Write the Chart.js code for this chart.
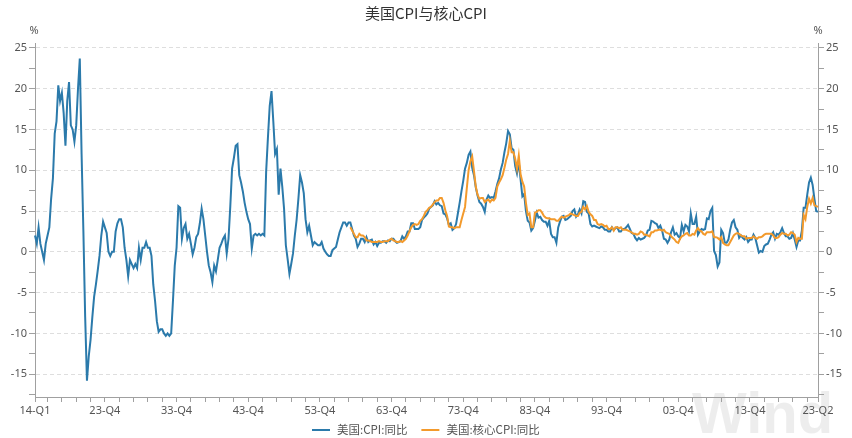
<!DOCTYPE html>
<html>
<head>
<meta charset="utf-8">
<script src="https://cdn.jsdelivr.net/npm/chart.js@4.4.0/dist/chart.umd.min.js"></script>
<style>
  html, body { margin: 0; padding: 0; background: #fff; }
</style>
</head>
<body>
<canvas id="cpiChart" width="852" height="438"></canvas>
<script>
// Quarter categories 1914-Q1 .. 2023-Q2
const quarters = [];
for (let y = 1914; y <= 2023; y++) {
  for (let q = 1; q <= 4; q++) {
    if (y === 2023 && q > 2) break;
    quarters.push(String(y % 100).padStart(2, "0") + "-Q" + q);
  }
}

// Labels shown under the x axis
const tickLabels = ["14-Q1", "23-Q4", "33-Q4", "43-Q4", "53-Q4", "63-Q4",
  "73-Q4", "83-Q4", "93-Q4", "03-Q4", "13-Q4", "23-Q2"];

// 美国:CPI:同比 (%), one value per quarter, 1914-Q1 .. 2023-Q2
const cpiYoY = [
  2.0, 1.0, 3.0, 1.0,       // 1914
  0.0, -1.0, 1.0, 2.0,      // 1915
  3.0, 6.5, 9.0, 14.5,      // 1916
  16.0, 20.4, 18.5, 19.5,   // 1917
  17.0, 13.0, 18.5, 20.8,   // 1918
  15.5, 15.0, 13.5, 15.5,   // 1919
  20.0, 23.7, 12.0, 2.6,    // 1920
  -8.0, -15.8, -12.8, -10.8,// 1921
  -8.0, -5.5, -4.0, -2.3,   // 1922
  -0.5, 2.0, 3.7, 3.0,      // 1923
  2.3, 0.0, -0.5, 0.0,      // 1924
  0.0, 2.5, 3.5, 4.0,       // 1925
  4.0, 3.0, 0.5, -1.0,      // 1926
  -3.0, -1.0, -1.5, -2.0,   // 1927
  -1.5, -2.0, 0.5, -1.0,    // 1928
  0.5, 0.5, 1.2, 0.5,       // 1929
  0.5, -0.5, -4.0, -6.0,    // 1930
  -8.5, -9.8, -9.5, -9.5,   // 1931
  -10.0, -10.3, -10.0, -10.3, // 1932
  -10.0, -6.0, -1.7, 0.5,   // 1933
  5.6, 5.4, 1.6, 2.9,       // 1934
  3.4, 1.6, 2.2, 1.0,       // 1935
  -0.3, 0.5, 1.8, 2.2,      // 1936
  3.5, 5.3, 4.0, 2.0,       // 1937
  0.0, -1.7, -2.5, -3.7,    // 1938
  -1.7, -2.4, -1.0, 0.5,    // 1939
  1.0, 1.6, 2.0, -0.2,      // 1940
  1.6, 5.6, 10.2, 11.5,     // 1941
  13.0, 13.2, 9.4, 8.5,     // 1942
  7.4, 6.0, 4.9, 4.0,       // 1943
  3.4, 0.4, 2.0, 2.2,       // 1944
  2.0, 2.2, 2.0, 2.2,       // 1945
  2.0, 9.8, 14.0, 17.9,     // 1946
  19.7, 16.0, 12.0, 12.6,   // 1947
  7.0, 10.2, 8.0, 5.3,      // 1948
  0.8, -0.9, -2.7, -1.5,    // 1949
  -0.2, 2.0, 3.9, 6.5,      // 1950
  9.4, 8.5, 7.2, 4.0,       // 1951
  2.4, 3.2, 2.0, 0.8,       // 1952
  1.2, 1.0, 0.8, 0.8,       // 1953
  1.2, 0.4, 0.0, -0.3,      // 1954
  -0.5, -0.5, 0.2, 0.4,     // 1955
  0.6, 1.5, 2.4, 3.0,       // 1956
  3.6, 3.6, 3.2, 3.6,       // 1957
  3.6, 2.8, 2.0, 1.6,       // 1958
  0.6, 1.0, 1.6, 1.6,       // 1959
  1.2, 1.8, 1.2, 1.4,       // 1960
  1.5, 0.9, 1.2, 0.7,       // 1961
  1.1, 1.1, 1.3, 1.3,       // 1962
  1.1, 1.4, 1.3, 1.6,       // 1963
  1.6, 1.3, 1.1, 1.2,       // 1964
  1.3, 1.9, 1.6, 1.9,       // 1965
  2.5, 2.5, 3.5, 3.5,       // 1966
  2.8, 2.8, 2.8, 3.0,       // 1967
  3.9, 4.2, 4.4, 4.7,       // 1968
  5.3, 5.5, 5.7, 6.2,       // 1969
  5.8, 6.0, 5.7, 5.6,       // 1970
  4.7, 4.6, 4.1, 3.3,       // 1971
  3.5, 2.7, 2.9, 3.4,       // 1972
  4.7, 6.0, 7.4, 8.7,       // 1973
  10.2, 10.9, 11.9, 12.3,   // 1974
  10.3, 9.4, 7.9, 6.9,      // 1975
  6.1, 5.9, 5.5, 4.9,       // 1976
  6.4, 6.9, 6.6, 6.7,       // 1977
  6.6, 7.4, 8.3, 9.0,       // 1978
  10.1, 10.9, 12.2, 13.3,   // 1979
  14.8, 14.4, 12.7, 12.5,   // 1980
  10.5, 9.6, 11.0, 8.9,     // 1981
  6.8, 7.1, 5.0, 3.8,       // 1982
  3.6, 2.6, 2.9, 3.8,       // 1983
  4.8, 4.2, 4.3, 3.9,       // 1984
  3.7, 3.7, 3.2, 3.8,       // 1985
  2.2, 1.8, 1.8, 1.1,       // 1986
  3.0, 3.7, 4.3, 4.4,       // 1987
  3.9, 4.0, 4.2, 4.4,       // 1988
  5.0, 5.2, 4.3, 4.6,       // 1989
  5.2, 4.7, 6.2, 6.1,       // 1990
  4.9, 4.7, 3.4, 3.1,       // 1991
  3.2, 3.1, 3.0, 2.9,       // 1992
  3.1, 3.0, 2.7, 2.7,       // 1993
  2.5, 2.5, 3.0, 2.7,       // 1994
  2.9, 3.0, 2.5, 2.5,       // 1995
  2.8, 2.8, 3.0, 3.3,       // 1996
  2.8, 2.3, 2.2, 1.7,       // 1997
  1.4, 1.7, 1.5, 1.6,       // 1998
  1.7, 2.0, 2.6, 2.7,       // 1999
  3.8, 3.7, 3.5, 3.4,       // 2000
  2.9, 3.2, 2.6, 1.6,       // 2001
  1.5, 1.1, 1.5, 2.4,       // 2002
  3.0, 2.1, 2.3, 1.9,       // 2003
  1.7, 3.3, 2.5, 3.3,       // 2004
  3.1, 2.5, 4.7, 3.4,       // 2005
  3.4, 4.3, 2.1, 2.5,       // 2006
  2.8, 2.7, 2.8, 4.1,       // 2007
  4.0, 5.0, 5.4, 0.1,       // 2008
  -0.4, -1.8, -1.3, 2.7,    // 2009
  2.3, 1.1, 1.1, 1.5,       // 2010
  2.7, 3.6, 3.9, 3.0,       // 2011
  2.7, 1.7, 2.0, 1.7,       // 2012
  1.5, 1.8, 1.2, 1.5,       // 2013
  1.5, 2.1, 1.7, 0.8,       // 2014
  -0.1, 0.1, 0.0, 0.7,      // 2015
  0.9, 1.0, 1.5, 2.1,       // 2016
  2.4, 1.6, 2.2, 2.1,       // 2017
  2.4, 2.9, 2.3, 1.9,       // 2018
  1.9, 1.6, 1.7, 2.3,       // 2019
  1.5, 0.6, 1.4, 1.4,       // 2020
  2.6, 5.4, 5.4, 7.0,       // 2021
  8.5, 9.1, 8.2, 6.5,       // 2022
  5.0, 4.9                  // 2023
];

// 美国:核心CPI:同比 (%), starts 1958-Q1
const coreYoY = [
  3.0, 2.6, 2.2, 1.8,       // 1958
  1.8, 2.2, 2.0, 2.0,       // 1959
  1.8, 1.4, 1.4, 1.3,       // 1960
  1.2, 1.2, 1.2, 1.2,       // 1961
  1.3, 1.2, 1.2, 1.3,       // 1962
  1.3, 1.3, 1.5, 1.6,       // 1963
  1.4, 1.3, 1.2, 1.2,       // 1964
  1.3, 1.2, 1.4, 1.6,       // 1965
  2.0, 2.5, 3.0, 3.3,       // 1966
  3.4, 3.3, 3.4, 3.8,       // 1967
  4.0, 4.4, 4.9, 5.1,       // 1968
  5.4, 5.5, 5.8, 6.1,       // 1969
  6.3, 6.3, 6.6, 6.6,       // 1970
  6.0, 5.1, 4.4, 3.1,       // 1971
  3.0, 3.0, 2.9, 3.0,       // 1972
  3.0, 3.0, 3.9, 4.7,       // 1973
  5.5, 7.8, 10.0, 11.1,     // 1974
  11.7, 9.9, 8.0, 7.0,      // 1975
  6.5, 6.6, 6.6, 6.1,       // 1976
  6.3, 6.4, 6.1, 6.4,       // 1977
  6.3, 6.6, 8.0, 8.5,       // 1978
  8.9, 9.4, 10.3, 11.3,     // 1979
  12.0, 13.6, 12.2, 12.2,   // 1980
  11.4, 10.2, 11.8, 9.5,    // 1981
  8.6, 8.0, 6.0, 4.5,       // 1982
  4.7, 3.0, 3.0, 4.8,       // 1983
  4.9, 5.1, 5.1, 4.8,       // 1984
  4.4, 4.2, 4.1, 4.1,       // 1985
  4.0, 4.0, 4.0, 3.8,       // 1986
  3.8, 4.1, 4.3, 4.2,       // 1987
  4.3, 4.4, 4.5, 4.7,       // 1988
  4.6, 4.5, 4.4, 4.4,       // 1989
  4.8, 4.9, 5.5, 5.2,       // 1990
  5.6, 4.9, 4.6, 4.4,       // 1991
  3.9, 3.9, 3.4, 3.3,       // 1992
  3.4, 3.3, 3.1, 3.2,       // 1993
  2.8, 2.8, 3.0, 2.6,       // 1994
  3.0, 3.0, 2.9, 3.0,       // 1995
  2.7, 2.7, 2.7, 2.6,       // 1996
  2.5, 2.4, 2.2, 2.2,       // 1997
  2.1, 2.2, 2.5, 2.4,       // 1998
  2.1, 2.1, 2.0, 1.9,       // 1999
  2.4, 2.4, 2.6, 2.6,       // 2000
  2.7, 2.7, 2.6, 2.7,       // 2001
  2.4, 2.3, 2.2, 1.9,       // 2002
  1.7, 1.5, 1.2, 1.1,       // 2003
  1.6, 1.9, 2.0, 2.2,       // 2004
  2.3, 2.0, 2.0, 2.2,       // 2005
  2.1, 2.6, 2.9, 2.6,       // 2006
  2.5, 2.2, 2.1, 2.4,       // 2007
  2.4, 2.4, 2.5, 1.8,       // 2008
  1.8, 1.7, 1.5, 1.8,       // 2009
  1.1, 0.9, 0.8, 0.8,       // 2010
  1.2, 1.6, 2.0, 2.2,       // 2011
  2.3, 2.2, 2.0, 1.9,       // 2012
  1.9, 1.6, 1.7, 1.7,       // 2013
  1.7, 1.9, 1.7, 1.6,       // 2014
  1.8, 1.8, 1.9, 2.1,       // 2015
  2.2, 2.2, 2.2, 2.2,       // 2016
  2.0, 1.7, 1.7, 1.8,       // 2017
  2.1, 2.3, 2.2, 2.2,       // 2018
  2.0, 2.1, 2.4, 2.3,       // 2019
  2.1, 1.2, 1.7, 1.6,       // 2020
  1.6, 4.5, 4.0, 5.5,       // 2021
  6.5, 5.9, 6.6, 5.7,       // 2022
  5.6, 5.5                  // 2023
];

// y axis ticks: labelled every 5, minor marks every 2.5
const yTickValues = [-17.5, -15, -12.5, -10, -7.5, -5, -2.5, 0, 2.5, 5, 7.5,
  10, 12.5, 15, 17.5, 20, 22.5, 25];

const blue = "#2b7aab";
const orange = "#f39a2c";
const axisGray = "#a0a0a0";
const textGray = "#555555";

// pad the core series so it lines up with the quarter categories
const coreSeries = new Array(quarters.length - coreYoY.length).fill(null).concat(coreYoY);

function yTicks(axis) {
  axis.ticks = yTickValues.map((v) => ({ value: v }));
}

function yAxis(position, width) {
  return {
    type: "linear",
    position: position,
    min: -17.8,
    max: 25.6,
    afterBuildTicks: yTicks,
    afterFit: (axis) => { axis.width = width; },
    border: { color: axisGray, width: 1, dash: [4, 3] },
    grid: {
      drawOnChartArea: position === "left",
      color: (c) => (c.tick && c.tick.value % 5 === 0 ? "#dedede" : "rgba(0,0,0,0)"),
      tickColor: axisGray,
      tickLength: 6,
      lineWidth: 1,
    },
    ticks: {
      color: textGray,
      font: { size: 11, family: "'Noto Sans', sans-serif" },
      padding: 2,
      callback: (v) => (v % 5 === 0 ? v : ""),
    },
  };
}

// watermark, "%" unit labels and legend are drawn by hand
const decorPlugin = {
  id: "decor",
  beforeDraw(chart) {
    const ctx = chart.ctx;
    ctx.save();
    ctx.fillStyle = "rgba(0,0,0,0.07)";
    ctx.font = "bold 58px 'Liberation Sans', Arial, sans-serif";
    ctx.textBaseline = "alphabetic";
    ctx.fillText("Wind", 692, 433);
    ctx.restore();
  },
  afterDraw(chart) {
    const ctx = chart.ctx;
    const area = chart.chartArea;
    ctx.save();
    ctx.fillStyle = textGray;
    ctx.font = "11px 'Noto Sans', sans-serif";
    ctx.textAlign = "center";
    ctx.textBaseline = "middle";
    ctx.fillText("%", area.left - 1, 31);
    ctx.fillText("%", area.right, 31);

    // legend
    ctx.font = "11.5px 'Noto Sans CJK SC', sans-serif";
    ctx.textAlign = "left";
    let x = 312;
    const y = 430;
    chart.data.datasets.forEach((ds) => {
      ctx.strokeStyle = ds.borderColor;
      ctx.lineWidth = 2;
      ctx.beginPath();
      ctx.moveTo(x, y);
      ctx.lineTo(x + 18, y);
      ctx.stroke();
      ctx.fillStyle = textGray;
      ctx.fillText(ds.label, x + 25, y);
      x += 25 + ctx.measureText(ds.label).width + 14;
    });
    ctx.restore();
  },
};

const ctx = document.getElementById("cpiChart").getContext("2d");
new Chart(ctx, {
  type: "line",
  data: {
    labels: quarters,
    datasets: [
      {
        label: "美国:CPI:同比",
        data: cpiYoY,
        borderColor: blue,
        backgroundColor: blue,
        borderWidth: 2,
        pointRadius: 0,
        tension: 0,
        yAxisID: "y",
        order: 1,
      },
      {
        label: "美国:核心CPI:同比",
        data: coreSeries,
        borderColor: orange,
        backgroundColor: orange,
        borderWidth: 2,
        pointRadius: 0,
        tension: 0,
        yAxisID: "y",
        order: 0,
      },
    ],
  },
  options: {
    responsive: false,
    animation: false,
    layout: { padding: { top: 0, bottom: 13, left: 0, right: 0 } },
    plugins: {
      legend: { display: false },
      tooltip: { enabled: false },
      title: {
        display: true,
        text: "美国CPI与核心CPI",
        color: "#333333",
        font: { size: 15, weight: "normal", family: "'Noto Sans CJK SC', sans-serif" },
        padding: { top: 4, bottom: 21 },
      },
    },
    scales: {
      x: {
        type: "category",
        afterBuildTicks: (axis) => {
          const last = quarters.length - 1;
          const t = [{ value: 0 }];
          for (let i = 7; i < last; i += 8) t.push({ value: i });
          t.push({ value: last });
          axis.ticks = t;
        },
        afterFit: (axis) => { axis.height = 28; },
        border: { color: axisGray, width: 1 },
        grid: { drawOnChartArea: false, tickColor: axisGray, tickLength: 5 },
        ticks: {
          autoSkip: false,
          maxRotation: 0,
          color: textGray,
          font: { size: 11, family: "'Noto Sans', sans-serif" },
          padding: 2,
          callback: (value) => (tickLabels.includes(quarters[value]) ? quarters[value] : ""),
        },
      },
      y: yAxis("left", 35),
      y2: yAxis("right", 34),
    },
  },
  plugins: [decorPlugin],
});
</script>
</body>
</html>
